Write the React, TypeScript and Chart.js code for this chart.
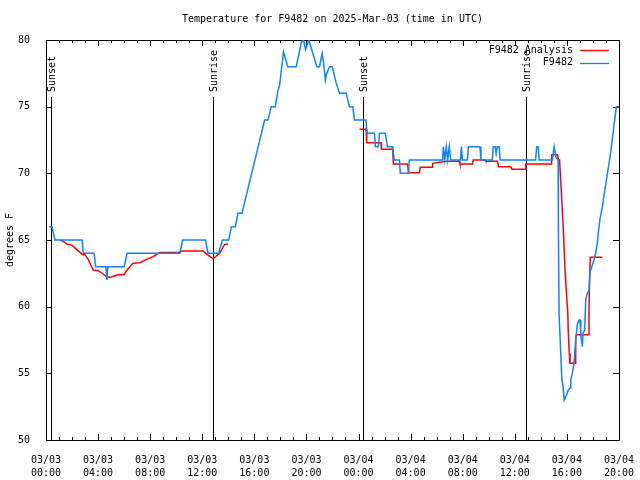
import React, { useEffect, useRef } from "react";
import { Chart, registerables } from "chart.js";

Chart.register(...registerables);

const TITLE = "Temperature for F9482 on 2025-Mar-03 (time in UTC)";
const Y_TITLE = "degrees F";
const OBS_LABEL = "F9482";
const ANA_LABEL = "F9482 Analysis";
const BLUE = "#0a84ff";
const RED = "#ff0000";
const FONT = '"DejaVu Sans Mono", "Liberation Mono", monospace';

// hours since 03/03 00:00 UTC
const obsHours = [
  0.25, 0.46, 0.69, 2.78, 2.86, 3.7, 3.81, 4.6, 4.68, 4.75, 6.0, 6.23, 10.27, 10.5, 12.24, 12.44, 13.26, 13.55,
  14.03, 14.24, 14.54, 14.74, 15.05, 16.79, 17.04, 17.3, 17.61, 17.81, 17.94, 18.24, 18.57, 19.22, 19.6, 19.78,
  19.93, 20.18, 20.49, 20.8, 21.0, 21.21, 21.31, 21.46, 21.52, 21.77, 21.98, 22.28, 22.54, 23.05, 23.3, 23.56,
  23.69, 24.57, 24.65, 25.22, 25.3, 25.53, 25.61, 26.06, 26.22, 26.62, 26.75, 27.14, 27.21, 27.85, 27.9, 30.46,
  30.51, 30.63, 30.74, 30.85, 30.97, 31.08, 31.83, 31.9, 31.98, 32.36, 32.44, 33.33, 33.4, 34.27, 34.35, 34.5,
  34.57, 34.65, 34.8, 34.88, 37.6, 37.68, 37.79, 37.87, 38.89, 39.02, 39.17, 39.33, 39.35, 39.4, 39.53, 39.61,
  39.71, 39.79, 39.92, 40.12, 40.25, 40.3, 40.42, 40.55, 40.68, 40.81, 40.94, 41.01, 41.07, 41.19, 41.24, 41.37,
  41.45, 41.57, 41.7, 41.78, 41.91, 42.09, 42.21, 42.34, 42.42, 42.55, 42.73, 42.8, 43.37, 43.8, 44.0,
];
const obsTemps = [
  66, 66, 65, 65, 64, 64, 63, 63, 62, 63, 63, 64, 64, 65, 65, 64, 64, 65,
  65, 66, 66, 67, 67, 74, 74, 75, 75, 76.2, 76.6, 79.1, 78, 78, 79.8, 80,
  79.3, 80, 79, 78, 78, 79, 78.3, 77, 77.4, 78, 78, 76.8, 76, 76, 75, 75,
  74, 74, 73, 73, 72, 72, 73, 73, 72, 72, 71, 71, 70, 70, 71, 71,
  72, 71, 72, 71, 72, 71, 71, 72, 71, 71, 72, 72, 71, 71, 72, 72,
  71.5, 72, 72, 71, 71, 72, 72, 71, 71, 72, 71.2, 71, 66, 59.5, 56.5, 54.6,
  54, 53, 53.25, 53.75, 53.9, 54.5, 55, 55.75, 57.5, 58.7, 59, 59, 57.9, 57, 58, 58.25,
  60.5, 61, 61.25, 62.6, 63, 63.5, 64, 64.75, 65.6, 66.6, 67.5, 68, 71.6, 75, 75,
];

const anaHours = [
  1.07, 1.33, 1.59, 2.02, 2.35, 2.81, 2.99, 3.24, 3.63, 4.01, 4.39, 4.65, 4.96, 5.21, 5.54, 5.98, 6.23, 6.69,
  7.21, 7.72, 8.23, 8.74, 10.27, 10.4, 12.06, 12.44, 12.83, 13.34, 13.72, 13.98, 19.0,
  24.07, 24.58, 24.63, 25.73, 25.76, 26.62, 26.68, 27.77, 27.83, 28.67, 28.75, 29.67, 29.69, 30.72, 31.74,
  31.79, 32.76, 32.81, 33.73, 33.79, 34.67, 34.75, 35.7, 35.78, 36.8, 36.85, 38.79, 38.83, 39.27, 39.36,
  39.44, 39.61, 39.73, 39.86, 39.96, 40.07, 40.11, 40.19, 40.24, 40.63, 40.68, 40.72, 41.63, 41.7, 41.75,
  41.8, 42.72,
];
const anaTemps = [
  65, 64.9, 64.7, 64.6, 64.3, 63.9, 63.9, 63.55, 62.75, 62.7, 62.45, 62.25, 62.2, 62.3, 62.4, 62.4, 62.75, 63.25,
  63.3, 63.55, 63.75, 64.07, 64.07, 64.17, 64.17, 63.87, 63.6, 64.0, 64.67, 64.7, null,
  73.3, 73.3, 72.3, 72.3, 71.8, 71.8, 70.7, 70.7, 70.05, 70.05, 70.45, 70.45, 70.75, 70.9, 70.9,
  70.7, 70.7, 71.0, 71.0, 70.9, 70.9, 70.5, 70.5, 70.3, 70.3, 70.7, 70.7, 71.4, 71.4, 71.0,
  71.0, 68, 65.75, 62.75, 61.1, 59.6, 58, 56.5, 55.75, 55.75, 57.5, 57.9, 57.9, 60, 62.25,
  63.7, 63.7,
];

const eventHours = [0.38, 12.8, 24.38, 36.87];
const eventLabels = ["Sunset", "Sunrise", "Sunset", "Sunrise"];

const X_MIN = 0;
const X_MAX = 44;
const X_STEP = 4;
const Y_MIN = 50;
const Y_MAX = 80;
const Y_STEP = 5;
const DATES = ["03/03", "03/04"];

function pad2(n: number) {
  return n < 10 ? "0" + n : "" + n;
}

const decorPlugin = {
  id: "decor",
  beforeDatasetsDraw(chart: any) {
    const { ctx, chartArea: a, scales } = chart;
    const xs = scales.x;
    const ys = scales.y;
    ctx.save();
    ctx.strokeStyle = "#000";
    ctx.lineWidth = 1;
    // frame
    ctx.beginPath();
    ctx.rect(Math.round(a.left) + 0.5, Math.round(a.top) + 0.5, Math.round(a.right - a.left), Math.round(a.bottom - a.top));
    ctx.stroke();
    // x ticks (inward, top and bottom)
    ctx.beginPath();
    for (let h = X_MIN; h <= X_MAX; h += 1) {
      const px = Math.round(xs.getPixelForValue(h)) + 0.5;
      const len = h % X_STEP === 0 ? 6 : 3;
      ctx.moveTo(px, a.bottom);
      ctx.lineTo(px, a.bottom - len);
      ctx.moveTo(px, a.top);
      ctx.lineTo(px, a.top + len);
    }
    // y ticks
    for (let v = Y_MIN; v <= Y_MAX; v += Y_STEP) {
      const py = Math.round(ys.getPixelForValue(v)) + 0.5;
      ctx.moveTo(a.left, py);
      ctx.lineTo(a.left + 6, py);
      ctx.moveTo(a.right, py);
      ctx.lineTo(a.right - 6, py);
    }
    ctx.stroke();
    // sunrise / sunset markers
    ctx.fillStyle = "#000";
    ctx.font = "10px " + FONT;
    eventHours.forEach((h, i) => {
      const px = Math.round(xs.getPixelForValue(h)) + 0.5;
      ctx.beginPath();
      ctx.moveTo(px, a.top + 57);
      ctx.lineTo(px, a.bottom);
      ctx.stroke();
      ctx.save();
      ctx.translate(px + 1, a.top + 52);
      ctx.rotate(-Math.PI / 2);
      ctx.textAlign = "left";
      ctx.textBaseline = "middle";
      ctx.fillText(eventLabels[i], 0, 0);
      ctx.restore();
    });
    // title
    ctx.textAlign = "center";
    ctx.textBaseline = "middle";
    ctx.fillText(TITLE, (a.left + a.right) / 2, 19);
    ctx.restore();
  },
  afterDraw(chart: any) {
    const { ctx, chartArea: a } = chart;
    ctx.save();
    ctx.font = "10px " + FONT;
    ctx.textAlign = "right";
    ctx.textBaseline = "middle";
    const rows = [
      { label: ANA_LABEL, color: RED },
      { label: OBS_LABEL, color: BLUE },
    ];
    rows.forEach((r, i) => {
      const yy = a.top + 10 + i * 12.5;
      ctx.fillStyle = "#000";
      ctx.fillText(r.label, a.right - 46, yy);
      ctx.strokeStyle = r.color;
      ctx.lineWidth = 1.3;
      ctx.beginPath();
      ctx.moveTo(a.right - 39, Math.round(yy) + 0.5);
      ctx.lineTo(a.right - 10, Math.round(yy) + 0.5);
      ctx.stroke();
    });
    ctx.restore();
  },
};

export default function App() {
  const ref = useRef<HTMLCanvasElement | null>(null);
  useEffect(() => {
    if (!ref.current) return;
    const obsData = obsHours.map((h, i) => ({ x: h, y: obsTemps[i] }));
    const anaData = anaHours.map((h, i) => ({ x: h, y: anaTemps[i] }));
    const chart = new Chart(ref.current, {
      type: "line",
      data: {
        datasets: [
          {
            label: OBS_LABEL,
            data: obsData,
            borderColor: BLUE,
            borderWidth: 1.5,
            pointRadius: 0,
            tension: 0,
            fill: false,
            order: 0,
          },
          {
            label: ANA_LABEL,
            data: anaData as any,
            borderColor: RED,
            borderWidth: 1.5,
            pointRadius: 0,
            tension: 0,
            fill: false,
            spanGaps: false,
            order: 1,
          },
        ],
      },
      options: {
        animation: false,
        responsive: false,
        events: [],
        layout: { padding: { top: 40, right: 20, left: 0, bottom: 0 } },
        plugins: {
          legend: { display: false },
          title: { display: false },
          tooltip: { enabled: false },
        },
        scales: {
          x: {
            type: "linear",
            min: X_MIN,
            max: X_MAX,
            grid: { display: false },
            border: { display: false },
            afterFit: (s: any) => {
              s.height = 40;
            },
            ticks: {
              stepSize: X_STEP,
              autoSkip: false,
              maxRotation: 0,
              minRotation: 0,
              padding: 6,
              color: "#000",
              font: { family: FONT, size: 10, lineHeight: 1.3 },
              callback: (v: any) => {
                const h = Number(v);
                const d = DATES[Math.floor(h / 24)] ?? DATES[DATES.length - 1];
                return [d, pad2(h % 24) + ":00"];
              },
            },
          },
          y: {
            min: Y_MIN,
            max: Y_MAX,
            grid: { display: false },
            border: { display: false },
            afterFit: (s: any) => {
              s.width = 46;
            },
            title: {
              display: true,
              text: Y_TITLE,
              color: "#000",
              font: { family: FONT, size: 10 },
              padding: { top: 4, bottom: 0 },
            },
            ticks: {
              stepSize: Y_STEP,
              padding: 8,
              color: "#000",
              font: { family: FONT, size: 10 },
            },
          },
        },
      },
      plugins: [decorPlugin],
    });
    return () => chart.destroy();
  }, []);
  return (
    <div style={{ position: "absolute", left: 0, top: 0, width: 640, height: 480, background: "#fff" }}>
      <canvas ref={ref} width={640} height={480} style={{ display: "block" }} />
    </div>
  );
}
